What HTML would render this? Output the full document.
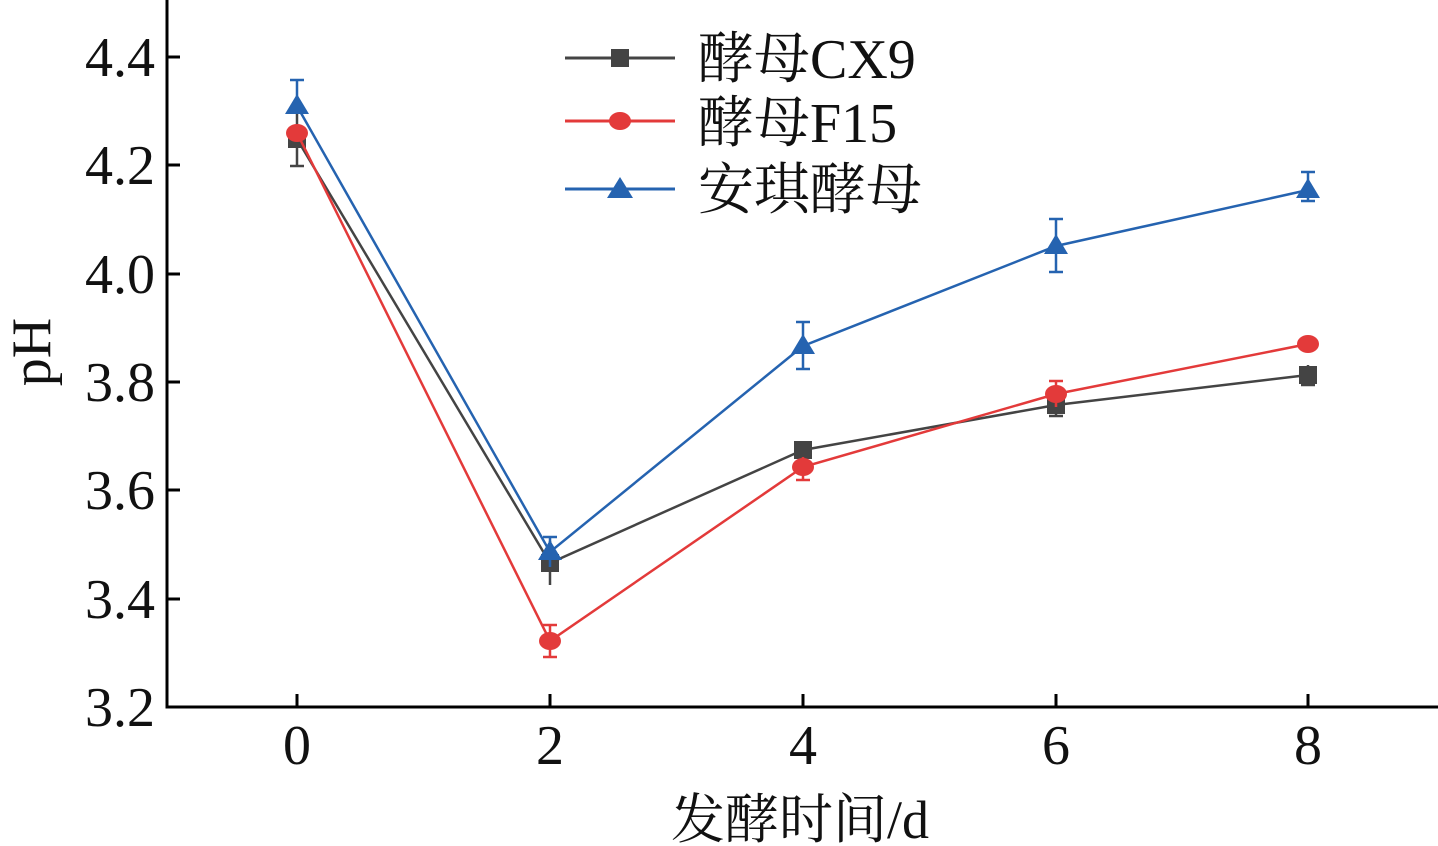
<!DOCTYPE html>
<html><head><meta charset="utf-8"><style>html,body{margin:0;padding:0;background:#fff}svg{display:block}text{font-family:"Liberation Serif","Noto Serif CJK SC",serif;fill:#111}</style></head><body>
<svg width="1438" height="846" viewBox="0 0 1438 846" xmlns="http://www.w3.org/2000/svg">
<g stroke="#000" stroke-width="3" fill="none">
<path d="M167 0 V707 H1438"/>
<path d="M167 57H180M167 165H180M167 274H180M167 382H180M167 490H180M167 599H180"/>
<path d="M297 707V694M550 707V694M803 707V694M1056 707V694M1308 707V694"/>
</g>
<g font-size="56" text-anchor="end">
<text x="155" y="76">4.4</text><text x="155" y="184">4.2</text><text x="155" y="293">4.0</text><text x="155" y="401">3.8</text><text x="155" y="509">3.6</text><text x="155" y="618">3.4</text><text x="155" y="726">3.2</text>
</g>
<g font-size="56" text-anchor="middle">
<text x="297" y="764">0</text><text x="550" y="764">2</text><text x="803" y="764">4</text><text x="1056" y="764">6</text><text x="1308" y="764">8</text>
<text x="800" y="838" font-size="54">发酵时间/d</text>
</g>
<text transform="translate(50,352) rotate(-90)" font-size="56" text-anchor="middle">pH</text>
<!-- CX9 -->
<g stroke="#444" stroke-width="2.5" fill="none">
<path d="M297 139L550 563L803 450L1056 405L1308 375"/>
<path d="M297 112V166M290 166H304M550 541V585M297 112H304"/>
<path d="M1308 365V385M1301 385H1315M1056 395V416M1049 416H1063"/>
</g>
<g fill="#444"><rect x="288" y="130" width="18" height="18"/><rect x="541" y="554" width="18" height="18"/><rect x="794" y="441" width="18" height="18"/><rect x="1047" y="396" width="18" height="18"/><rect x="1299" y="366" width="18" height="18"/></g>
<!-- F15 -->
<g stroke="#e33a3a" stroke-width="2.5" fill="none">
<path d="M297 133L550 641L803 467L1056 394L1308 344"/>
<path d="M550 625V657M543 625H557M543 657H557M803 457V480M796 480H810M1056 381V407M1049 381H1063"/>
</g>
<g fill="#e33a3a"><ellipse cx="297" cy="133" rx="11" ry="9"/><ellipse cx="550" cy="641" rx="11" ry="9"/><ellipse cx="803" cy="467" rx="11" ry="9"/><ellipse cx="1056" cy="394" rx="11" ry="9"/><ellipse cx="1308" cy="344" rx="11" ry="9"/></g>
<!-- Anqi -->
<g stroke="#2563b0" stroke-width="2.5" fill="none">
<path d="M297 106L550 552L803 346L1056 246L1308 190"/>
<path d="M297 80V106M290 80H304M550 537V567M543 537H557M803 322V369M796 322H810M796 369H810M1056 219V272M1049 219H1063M1049 272H1063M1308 172V201M1301 172H1315M1301 201H1315"/>
</g>
<g fill="#2563b0"><path d="M297 94l12 20h-24z"/><path d="M550 540l12 20h-24z"/><path d="M803 334l12 20h-24z"/><path d="M1056 234l12 20h-24z"/><path d="M1308 178l12 20h-24z"/></g>
<!-- legend -->
<path d="M565 58H675" stroke="#444" stroke-width="3"/><rect x="611" y="49" width="18" height="18" fill="#444"/>
<path d="M565 121H675" stroke="#e33a3a" stroke-width="3"/><ellipse cx="620" cy="121" rx="11" ry="9" fill="#e33a3a"/>
<path d="M565 189H675" stroke="#2563b0" stroke-width="3"/><path d="M620 177l13 21h-26z" fill="#2563b0"/>
<g font-size="56"><text x="698" y="78">酵母CX9</text><text x="698" y="142">酵母F15</text><text x="698" y="209">安琪酵母</text></g>
</svg>
</body></html>
